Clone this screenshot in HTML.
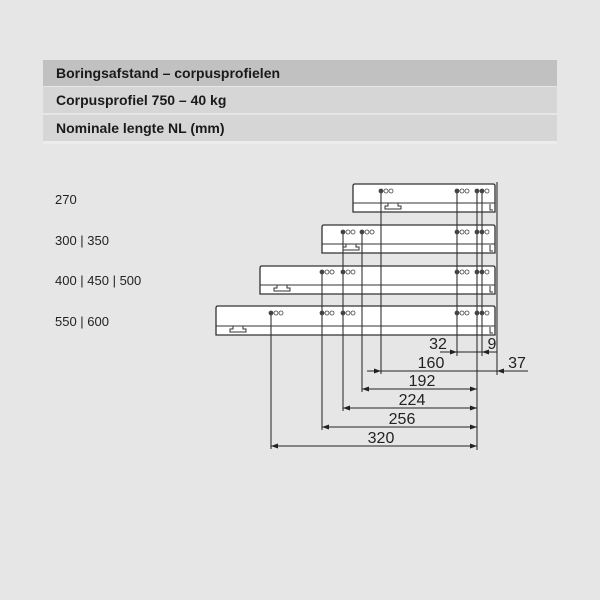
<!DOCTYPE html>
<html><head><meta charset="utf-8"><style>
html,body{margin:0;padding:0;background:#e6e6e6;}
body{width:600px;height:600px;position:relative;overflow:hidden;font-family:"Liberation Sans",Arial,sans-serif;}
.bar{position:absolute;left:43px;width:514px;height:26px;font-weight:bold;font-size:14px;color:#1a1a1a;line-height:26px;padding-left:13px;box-sizing:border-box;}
</style></head><body>
<div class="bar" style="top:60px;background:#c1c1c1;">Boringsafstand – corpusprofielen</div>
<div class="bar" style="top:87px;background:#d6d6d6;">Corpusprofiel 750 – 40 kg</div>
<div class="bar" style="top:115px;background:#d6d6d6;">Nominale lengte NL (mm)</div>
<div style="position:absolute;left:43px;top:141px;width:514px;height:3px;background:#ececec"></div>
<svg width="600" height="600" style="position:absolute;left:0;top:0" xmlns="http://www.w3.org/2000/svg">
<defs>
<marker id="a" viewBox="0 0 10 10" refX="10" refY="5" markerWidth="10" markerHeight="7" orient="auto-start-reverse"><path d="M0,1.5 L10,5 L0,8.5z" fill="#222"/></marker>
</defs>
<g font-family="Liberation Sans, Arial, sans-serif" font-size="13" fill="#222">
<text x="55" y="204">270</text>
<text x="55" y="245">300 | 350</text>
<text x="55" y="285">400 | 450 | 500</text>
<text x="55" y="326">550 | 600</text>
</g>
<g stroke="#333" stroke-width="1.3" fill="#fff">
<path d="M353,212 V186 Q353,184 355,184 H493 Q495,184 495,186 V212 Z"/>
<path d="M322,253 V227 Q322,225 324,225 H493 Q495,225 495,227 V253 Z"/>
<path d="M260,294 V268 Q260,266 262,266 H493 Q495,266 495,268 V294 Z"/>
<path d="M216,335 V308 Q216,306 218,306 H493 Q495,306 495,308 V335 Z"/>
</g>
<g stroke="#333" stroke-width="1" fill="none">
<path d="M353,203 H495 M322,244 H495 M260,285 H495 M216,326 H495"/>
<path d="M385,209 h16 v-3 h-3 v-3 h-10 v3 h-3z M343,250 h16 v-3 h-3 v-3 h-10 v3 h-3z M274,291 h16 v-3 h-3 v-3 h-10 v3 h-3z M230,332 h16 v-3 h-3 v-3 h-10 v3 h-3z"/>
<path d="M490,204 v6 h3 M490,245 v6 h3 M490,286 v6 h3 M490,327 v6 h3"/>
</g>
<g stroke="#333" stroke-width="1.1">
<line x1="497" y1="182" x2="497" y2="375"/>
<line x1="477" y1="191" x2="477" y2="450"/>
<line x1="482" y1="191" x2="482" y2="356"/>
<line x1="457" y1="191" x2="457" y2="356"/>
<line x1="381" y1="191" x2="381" y2="374"/>
<line x1="362" y1="232" x2="362" y2="392"/>
<line x1="343" y1="232" x2="343" y2="411"/>
<line x1="322" y1="272" x2="322" y2="430"/>
<line x1="271" y1="313" x2="271" y2="449"/>
</g>
<g fill="#fff" stroke="#444" stroke-width="0.8">
<circle cx="381" cy="191" r="2" fill="#444"/><circle cx="386" cy="191" r="2"/><circle cx="391" cy="191" r="2"/>
<circle cx="457" cy="191" r="2" fill="#444"/><circle cx="462" cy="191" r="2"/><circle cx="467" cy="191" r="2"/>
<circle cx="477" cy="191" r="2" fill="#444"/><circle cx="482" cy="191" r="2" fill="#444"/><circle cx="487" cy="191" r="2"/>
<circle cx="343" cy="232" r="2" fill="#444"/><circle cx="348" cy="232" r="2"/><circle cx="353" cy="232" r="2"/>
<circle cx="362" cy="232" r="2" fill="#444"/><circle cx="367" cy="232" r="2"/><circle cx="372" cy="232" r="2"/>
<circle cx="457" cy="232" r="2" fill="#444"/><circle cx="462" cy="232" r="2"/><circle cx="467" cy="232" r="2"/>
<circle cx="477" cy="232" r="2" fill="#444"/><circle cx="482" cy="232" r="2" fill="#444"/><circle cx="487" cy="232" r="2"/>
<circle cx="322" cy="272" r="2" fill="#444"/><circle cx="327" cy="272" r="2"/><circle cx="332" cy="272" r="2"/>
<circle cx="343" cy="272" r="2" fill="#444"/><circle cx="348" cy="272" r="2"/><circle cx="353" cy="272" r="2"/>
<circle cx="457" cy="272" r="2" fill="#444"/><circle cx="462" cy="272" r="2"/><circle cx="467" cy="272" r="2"/>
<circle cx="477" cy="272" r="2" fill="#444"/><circle cx="482" cy="272" r="2" fill="#444"/><circle cx="487" cy="272" r="2"/>
<circle cx="271" cy="313" r="2" fill="#444"/><circle cx="276" cy="313" r="2"/><circle cx="281" cy="313" r="2"/>
<circle cx="322" cy="313" r="2" fill="#444"/><circle cx="327" cy="313" r="2"/><circle cx="332" cy="313" r="2"/>
<circle cx="343" cy="313" r="2" fill="#444"/><circle cx="348" cy="313" r="2"/><circle cx="353" cy="313" r="2"/>
<circle cx="457" cy="313" r="2" fill="#444"/><circle cx="462" cy="313" r="2"/><circle cx="467" cy="313" r="2"/>
<circle cx="477" cy="313" r="2" fill="#444"/><circle cx="482" cy="313" r="2" fill="#444"/><circle cx="487" cy="313" r="2"/>
</g>
<g stroke="#222" stroke-width="1" fill="none">
<line x1="440" y1="352" x2="457" y2="352" marker-end="url(#a)"/>
<line x1="457" y1="352" x2="482" y2="352"/>
<line x1="497" y1="352" x2="482" y2="352" marker-end="url(#a)"/>
<line x1="367" y1="371" x2="381" y2="371" marker-end="url(#a)"/>
<line x1="381" y1="371" x2="497" y2="371"/>
<line x1="528" y1="371" x2="497" y2="371" marker-end="url(#a)"/>
<line x1="362" y1="389" x2="477" y2="389" marker-start="url(#a)" marker-end="url(#a)"/>
<line x1="343" y1="408" x2="477" y2="408" marker-start="url(#a)" marker-end="url(#a)"/>
<line x1="322" y1="427" x2="477" y2="427" marker-start="url(#a)" marker-end="url(#a)"/>
<line x1="271" y1="446" x2="477" y2="446" marker-start="url(#a)" marker-end="url(#a)"/>
</g>
<g font-family="Liberation Sans, Arial, sans-serif" font-size="16" fill="#222" text-anchor="middle">
<text x="438" y="349">32</text>
<text x="492" y="349">9</text>
<text x="431" y="368">160</text>
<text x="517" y="368">37</text>
<text x="422" y="386">192</text>
<text x="412" y="405">224</text>
<text x="402" y="424">256</text>
<text x="381" y="443">320</text>
</g>
</svg>
</body></html>
